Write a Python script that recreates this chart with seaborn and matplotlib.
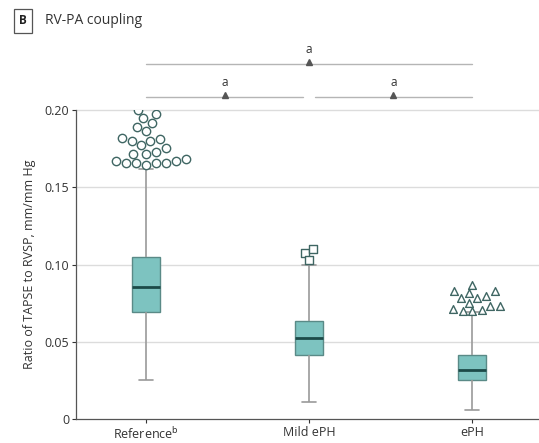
import numpy as np
import pandas as pd
import matplotlib
matplotlib.use("Agg")
import matplotlib.pyplot as plt
import seaborn as sns

# ---- data ----
categories = ["Reference", "Mild ePH", "ePH"]
tick_labels = ["Reference$^{\\mathrm{b}}$", "Mild ePH", "ePH"]
# five-number summaries: whisker low, Q1, median, Q3, whisker high
ref_summary = [0.0255, 0.0695, 0.0853, 0.1048, 0.162]
mild_summary = [0.011, 0.0414, 0.0526, 0.0634, 0.0994]
eph_summary = [0.0056, 0.0253, 0.032, 0.0414, 0.069]
# outliers
ref_outliers = [0.200, 0.1974, 0.1946, 0.1917, 0.1892, 0.1866, 0.1799, 0.182,
                0.1799, 0.1812, 0.1751, 0.1718, 0.1773, 0.1718, 0.1725, 0.168,
                0.1658, 0.1669, 0.166, 0.166, 0.1669, 0.1643, 0.166]
mild_outliers = [0.1076, 0.1026, 0.110]
eph_outliers = [0.0827, 0.0784, 0.0732, 0.0697, 0.0814, 0.0712, 0.087, 0.0831,
                0.0784, 0.0734, 0.0697, 0.0799, 0.0753, 0.0706]
y_ticks = [0, 0.05, 0.10, 0.15, 0.20]
y_tick_labels = ["0", "0.05", "0.10", "0.15", "0.20"]

box_df = pd.DataFrame({
    "group": [c for c, s in zip(categories, [ref_summary, mild_summary, eph_summary]) for _ in s],
    "value": ref_summary + mild_summary + eph_summary,
})

sns.set_style("white")
plt.rcParams["font.family"] = ["Open Sans", "DejaVu Sans"]

fig = plt.figure(figsize=(5.39, 4.43), dpi=100)
ax = fig.add_axes([76 / 539, 24 / 443, 463 / 539, 309 / 443])

box_fill = "#7dc3c0"
box_edge = "#5a8a87"
sns.boxplot(data=box_df, x="group", y="value", order=categories, ax=ax,
            whis=(0, 100), showfliers=False, width=0.17,
            color=box_fill, saturation=1, linewidth=1.0,
            boxprops=dict(facecolor=box_fill, edgecolor=box_edge),
            whiskerprops=dict(color="#9a9a9a", linewidth=1.2),
            capprops=dict(color="#9a9a9a", linewidth=1.2),
            medianprops=dict(color="#1c4a48", linewidth=2.0),
            zorder=3)

marker_edge = "#3f6663"
out_specs = [(categories[0], ref_outliers, "o", 6.0),
             (categories[1], mild_outliers, "s", 5.4),
             (categories[2], eph_outliers, "^", 5.6)]
for cat, vals, mk, sz in out_specs:
    d = pd.DataFrame({"group": [cat] * len(vals), "value": vals})
    sns.swarmplot(data=d, x="group", y="value", order=categories, ax=ax,
                  marker=mk, size=sz, color="white", edgecolor=marker_edge,
                  linewidth=1.0, zorder=4, warn_thresh=1)
    coll = ax.collections[-1]
    coll.set_facecolor("white")
    coll.set_edgecolor(marker_edge)
    coll.set_linewidth(1.0)
    coll.set_clip_on(False)

ax.set_xlim(-0.43, 2.41)
ax.set_ylim(0, 0.2)
ax.set_yticks(y_ticks)
ax.set_yticklabels(y_tick_labels)
ax.set_xticks(range(len(categories)))
ax.set_xticklabels(tick_labels)
ax.set_xlabel("")
ax.set_ylabel("Ratio of TAPSE to RVSP, mm/mm Hg", fontsize=9, color="#333333", labelpad=6)
ax.tick_params(axis="both", labelsize=9, colors="#333333", length=3, width=0.8,
               direction="out", left=True, bottom=True, pad=2)
for t in ax.get_xticklabels() + ax.get_yticklabels():
    t.set_color("#333333")

for y in y_ticks[1:]:
    ax.axhline(y, color="#dcdcdc", linewidth=1.0, zorder=0, clip_on=False)
for s in ["top", "right"]:
    ax.spines[s].set_visible(False)
for s in ["left", "bottom"]:
    ax.spines[s].set_color("#555555")
    ax.spines[s].set_linewidth(0.9)

# significance brackets
br_color = "#b5b5b5"
def bracket(x0, x1, y, label):
    ax.plot([x0, x1], [y, y], color=br_color, linewidth=1.0, clip_on=False)
    xm = (x0 + x1) / 2
    ax.plot([xm], [y + 0.0012], marker="^", color="#555555", markersize=4.2, clip_on=False)
    ax.text(xm, y + 0.0095, label, ha="center", va="center", fontsize=8.5, color="#333333")

bracket(0, 0.965, 0.2084, "a")
bracket(1.035, 2, 0.2084, "a")
bracket(0, 2, 0.2299, "a")

# panel label
fig.text(23 / 539, 1 - 21 / 443, "B", ha="center", va="center", fontsize=8.5,
         fontweight="bold", color="#222222",
         bbox=dict(boxstyle="square,pad=0.45", facecolor="white", edgecolor="#555555", linewidth=0.9))
fig.text(45 / 539, 1 - 21 / 443, "RV-PA coupling", ha="left", va="center",
         fontsize=10, color="#333333")

fig.savefig("out.png", dpi=100)
